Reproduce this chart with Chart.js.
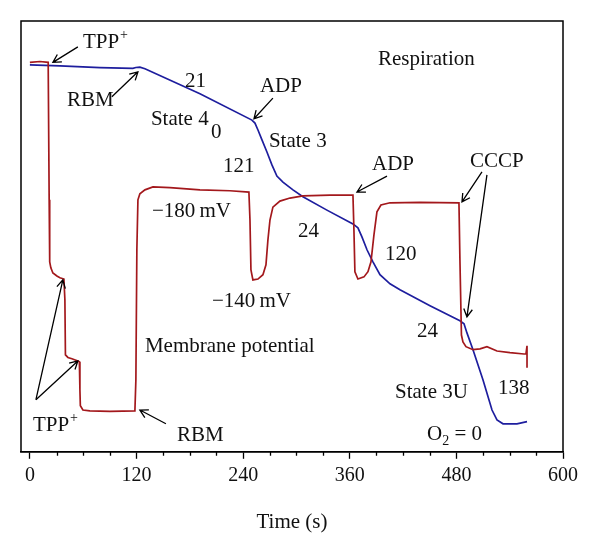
<!DOCTYPE html>
<html><head><meta charset="utf-8">
<script src="https://cdn.jsdelivr.net/npm/chart.js@4.4.1/dist/chart.umd.min.js"></script>
<style>html,body{margin:0;padding:0;background:#fff}</style>
</head><body>
<canvas id="c" width="600" height="544" style="display:block;width:600px;height:544px"></canvas>
<script>
// ---- data (time in s, signal in arbitrary units 0-100) ----
const memTime = [0,11.3,20.6,21.7,22.3,23.6,25.9,30.4,33.8,38.3,39.4,40.0,42.8,47.3,54.0,55.7,56.3,56.8,59.7,67.5,90.1,118.2,119.3,120.4,121.6,123.8,129.5,138.5,157.6,191.4,225.1,246.5,247.7,248.8,251.0,256.7,262.3,265.7,267.9,270.2,273.5,281.4,292.7,307.3,337.7,363.6,364.7,365.8,369.2,376.0,380.5,383.9,387.2,390.6,395.1,405.3,439.0,482.9,484.0,485.7,487.4,490.8,498.7,506.6,514.4,525.7,540.3,556.1,558.3,559.5,559.5];
const memSignal = [90.4,90.6,90.4,58.5,44.1,42.7,41.5,40.8,40.4,40.1,35.3,22.5,21.9,21.6,21.1,20.9,14.4,10.7,9.7,9.5,9.4,9.5,16.7,46.9,58.5,59.9,60.8,61.5,61.3,60.8,60.6,60.3,53.8,42.2,39.9,40.1,41.1,43.4,49.2,53.8,56.8,58.2,58.9,59.4,59.6,59.6,51.5,41.8,40.1,40.6,41.8,44.1,50.3,55.7,57.3,57.8,57.9,57.8,44.5,27.1,25.5,24.4,23.7,23.9,24.4,23.4,23.0,22.7,22.7,24.6,19.5];
const respTime = [0,33.8,78.8,115.9,119.3,123.8,129.5,191.4,249.9,253.3,256.7,261.2,266.8,272.4,278.0,284.8,296.1,307.3,334.3,363.6,369.2,373.7,379.4,386.1,394.0,405.3,416.5,450.3,484.0,488.6,491.9,498.7,509.9,520.1,525.7,532.5,548.2,559.5];
const respSignal = [89.8,89.6,89.2,89.0,89.2,89.3,88.9,83.1,77.0,76.3,74.7,72.4,69.6,66.6,64.0,62.6,60.8,59.2,56.1,52.9,52.0,49.9,46.9,44.1,41.1,39.0,37.6,33.9,30.4,29.7,27.6,23.7,16.7,9.7,7.4,6.5,6.5,7.0];
const tickValues = [0,30,60,90,120,150,180,210,240,270,300,330,360,390,420,450,480,510,540,570,600];
const majorTicks = [0,120,240,360,480,600];

// annotation texts (anchored at left/baseline, in data units)
const labels = [
  {t:'TPP', sup:'+', x:59.7, y:93.7},
  {t:'RBM', x:41.7, y:80.3},
  {t:'21', x:174.5, y:84.7},
  {t:'State 4', x:136.2, y:75.9},
  {t:'0', x:203.8, y:72.9},
  {t:'121', x:217.3, y:64.9},
  {t:'ADP', x:258.9, y:83.5},
  {t:'State 3', x:269.0, y:70.8},
  {t:'Respiration', x:391.7, y:89.8},
  {t:'ADP', x:385.0, y:65.4},
  {t:'CCCP', x:495.3, y:66.1},
  {t:'\u2212180\u2009mV', x:137.3, y:54.5},
  {t:'\u2212140\u2009mV', x:204.9, y:33.6},
  {t:'24', x:301.7, y:49.9},
  {t:'120', x:399.6, y:44.5},
  {t:'24', x:435.6, y:26.7},
  {t:'Membrane potential', x:129.5, y:23.2},
  {t:'State 3U', x:410.9, y:12.5},
  {t:'138', x:526.8, y:13.5},
  {t:'O', sub:'2', after:' = 0', x:446.9, y:2.8},
  {t:'TPP', sup:'+', x:3.4, y:4.9},
  {t:'RBM', x:165.5, y:2.6}
];
// arrows: from (x1,y1) to head at (x2,y2), data units
const arrows = [
  [54.0,94.0,25.9,90.4],
  [92.3,82.4,121.6,88.2],
  [273.5,82.1,252.2,77.3],
  [401.9,64.0,368.1,60.3],
  [508.8,65.0,486.3,58.0],
  [514.4,64.3,491.9,31.3],
  [6.8,12.1,37.1,39.9],
  [6.8,12.1,54.0,21.1],
  [153.1,6.5,123.8,9.7]
];

const FONT = '"Liberation Serif", "DejaVu Serif", serif';
const toPts = (xs, ys) => xs.map((x,i)=>({x:x, y:ys[i]}));

const decor = {
  id:'decor',
  afterDraw(chart){
    const ctx = chart.ctx, a = chart.chartArea;
    const xs = chart.scales.x, ys = chart.scales.y;
    ctx.save();
    // frame
    ctx.strokeStyle = '#000'; ctx.lineWidth = 1.5;
    ctx.strokeRect(a.left, a.top, a.right - a.left, a.bottom - a.top);
    // minor ticks
    ctx.lineWidth = 1.3;
    ctx.beginPath();
    tickValues.forEach(v=>{
      if (majorTicks.includes(v)) return;
      const px = Math.round(xs.getPixelForValue(v)) + 0.5;
      ctx.moveTo(px, a.bottom); ctx.lineTo(px, a.bottom + 4);
    });
    ctx.stroke();
    // arrows
    ctx.lineWidth = 1.3; ctx.strokeStyle = '#000';
    arrows.forEach(([x1,y1,x2,y2])=>{
      const p1 = [xs.getPixelForValue(x1), ys.getPixelForValue(y1)];
      const p2 = [xs.getPixelForValue(x2), ys.getPixelForValue(y2)];
      const ang = Math.atan2(p2[1]-p1[1], p2[0]-p1[0]);
      const L = 9, w = 0.5;
      ctx.beginPath();
      ctx.moveTo(p1[0], p1[1]); ctx.lineTo(p2[0], p2[1]);
      ctx.moveTo(p2[0] - L*Math.cos(ang - w), p2[1] - L*Math.sin(ang - w));
      ctx.lineTo(p2[0], p2[1]);
      ctx.lineTo(p2[0] - L*Math.cos(ang + w), p2[1] - L*Math.sin(ang + w));
      ctx.stroke();
    });
    // labels
    ctx.fillStyle = '#111'; ctx.textAlign = 'left'; ctx.textBaseline = 'alphabetic';
    labels.forEach(l=>{
      let px = xs.getPixelForValue(l.x), py = ys.getPixelForValue(l.y);
      ctx.font = '21px ' + FONT;
      ctx.fillText(l.t, px, py);
      px += ctx.measureText(l.t).width;
      if (l.sup) { ctx.font = '14px ' + FONT; ctx.fillText(l.sup, px + 1, py - 9); px += ctx.measureText(l.sup).width + 1; }
      if (l.sub) { ctx.font = '14px ' + FONT; ctx.fillText(l.sub, px, py + 5); px += ctx.measureText(l.sub).width; }
      if (l.after) { ctx.font = '21px ' + FONT; ctx.fillText(l.after, px, py); }
    });
    ctx.restore();
  }
};

new Chart(document.getElementById('c'), {
  type:'line',
  data:{ datasets:[
    {label:'Membrane potential', data:toPts(memTime, memSignal), borderColor:'#a3181c', borderWidth:1.7, pointRadius:0, tension:0, fill:false},
    {label:'Respiration', data:toPts(respTime, respSignal), borderColor:'#1e1e9e', borderWidth:1.7, pointRadius:0, tension:0, fill:false}
  ]},
  options:{
    responsive:false, animation:false, devicePixelRatio:1,
    layout:{padding:{left:21, right:37, top:21, bottom:9}},
    plugins:{legend:{display:false}, tooltip:{enabled:false}},
    scales:{
      x:{type:'linear', min:-10, max:600,
        afterBuildTicks: ax => { ax.ticks = tickValues.map(v=>({value:v})); },
        ticks:{autoSkip:false, maxRotation:0, padding:5, color:'#111', font:{family:FONT, size:20},
          callback: v => majorTicks.includes(v) ? String(v) : ''},
        grid:{drawOnChartArea:false, drawTicks:true, tickLength:7, tickWidth:1.3,
          tickColor: c => (c.tick && majorTicks.includes(c.tick.value)) ? '#000' : 'rgba(0,0,0,0)'},
        border:{display:true, color:'#000', width:1.5},
        title:{display:true, text:'Time (s)', color:'#111', font:{family:FONT, size:21}, padding:{top:17, bottom:0}}
      },
      y:{type:'linear', min:0, max:100, display:false}
    }
  },
  plugins:[decor]
});
</script>
</body></html>
